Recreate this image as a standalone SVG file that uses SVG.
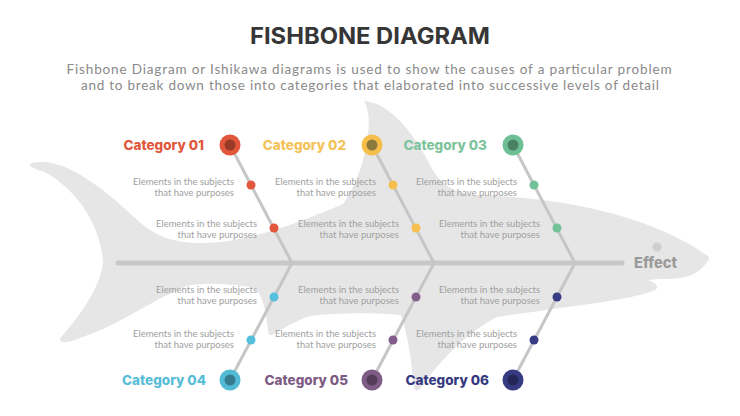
<svg xmlns="http://www.w3.org/2000/svg" width="740" height="416" viewBox="0 0 740 416">
<style>
.title{font-family:Inter,"Liberation Sans",sans-serif;font-weight:700;font-size:23px;fill:#363636;text-anchor:middle}
.sub{font-family:Lato,"Liberation Sans",sans-serif;font-size:13.5px;fill:#8a8a8a;text-anchor:middle}
.cat{font-family:Inter,"Liberation Sans",sans-serif;font-weight:800;font-size:13.5px;text-anchor:end}
.el{font-family:Lato,"Liberation Sans",sans-serif;font-size:9.5px;fill:#a0a0a0;text-anchor:end}
.bone{stroke:#c6c6c6;stroke-width:3;fill:none;stroke-linecap:round}
.spine{stroke:#c8c8c8;stroke-width:5;fill:none;stroke-linecap:round}
.inner{fill:#000;fill-opacity:0.33}
.effect{font-family:Inter,"Liberation Sans",sans-serif;font-weight:800;font-size:15px;fill:#9b9b9b}
</style>
<rect width="740" height="416" fill="#ffffff"/>
<path id="shark" fill="#e6e6e6" d="M32,163 C62,156 100,185 135,218 C155,236 170,243 205,243 C250,242 300,222 343,204 C358,185 372,140 368,112 Q366,104 364,101 C385,102 410,125 430,165 C440,185 455,193 475,195 C560,197 650,215 708,256 Q711,259 707,262 C700,272 690,280 660,279 L648,280 C656,283 660,287 655,290 C640,297 600,303 560,308 C540,311 515,314 497,317 C470,330 440,360 420,389 Q415,393 414,387 C412,365 408,335 401,315 C380,313 340,312 310,316 C298,320 285,327 272,335 Q268,336 268,331 C266,310 262,295 255,288 C235,284 215,283 190,285 C160,295 120,325 80,338 C72,341 66,343 62,342 Q58,340 62,336 C85,310 100,285 103,263 C102,235 85,195 45,172 C30,168 27,165 32,163 Z"/>
<text class="title" x="370" y="44" textLength="240" lengthAdjust="spacingAndGlyphs">FISHBONE DIAGRAM</text>
<text class="sub" x="369" y="74" textLength="605" lengthAdjust="spacing">Fishbone Diagram or Ishikawa diagrams is used to show the causes of a particular problem</text>
<text class="sub" x="370" y="90" textLength="578" lengthAdjust="spacing">and to break down those into categories that elaborated into successive levels of detail</text>
<g id="connectors">
<line class="spine" x1="118" y1="263" x2="622" y2="263"/>
<line class="bone" x1="230" y1="145" x2="292" y2="263"/>
<line class="bone" x1="372" y1="145" x2="434" y2="263"/>
<line class="bone" x1="513" y1="145" x2="575" y2="263"/>
<line class="bone" x1="292" y1="263" x2="230" y2="380"/>
<line class="bone" x1="434" y1="263" x2="372" y2="380"/>
<line class="bone" x1="575" y1="263" x2="513" y2="380"/>
</g>
<g id="cat1">
<text class="cat" x="204" y="150" fill="#e0573c">Category 01</text>
<circle cx="230" cy="145" r="10.5" fill="#e2573b"/><circle class="inner" cx="230" cy="145" r="5.5"/>
<circle cx="251" cy="185" r="4.5" fill="#e2573b"/><circle cx="274" cy="228" r="4.5" fill="#e2573b"/>
<text class="el" x="234" y="184.5">Elements in the subjects</text><text class="el" x="234" y="195.5">that have purposes</text>
<text class="el" x="257" y="227">Elements in the subjects</text><text class="el" x="257" y="238">that have purposes</text>
</g>
<g id="cat2">
<text class="cat" x="346" y="150" fill="#f3c258">Category 02</text>
<circle cx="372" cy="145" r="10.5" fill="#f5bf4c"/><circle cx="372" cy="145" r="5.5" fill="#8c7a3c"/>
<circle cx="393" cy="185" r="4.5" fill="#f5c04f"/><circle cx="416" cy="228" r="4.5" fill="#f5c04f"/>
<text class="el" x="376" y="184.5">Elements in the subjects</text><text class="el" x="376" y="195.5">that have purposes</text>
<text class="el" x="399" y="227">Elements in the subjects</text><text class="el" x="399" y="238">that have purposes</text>
</g>
<g id="cat3">
<text class="cat" x="487" y="150" fill="#7dc49d">Category 03</text>
<circle cx="513" cy="145" r="10.5" fill="#6fbf95"/><circle class="inner" cx="513" cy="145" r="5.5"/>
<circle cx="534" cy="185" r="4.5" fill="#72c299"/><circle cx="557" cy="228" r="4.5" fill="#72c299"/>
<text class="el" x="517" y="184.5">Elements in the subjects</text><text class="el" x="517" y="195.5">that have purposes</text>
<text class="el" x="540" y="227">Elements in the subjects</text><text class="el" x="540" y="238">that have purposes</text>
</g>
<g id="cat4">
<text class="cat" x="206" y="385" fill="#58bdd6">Category 04</text>
<circle cx="230" cy="380" r="10.5" fill="#52bad4"/><circle class="inner" cx="230" cy="380" r="5.5"/>
<circle cx="274" cy="297" r="4.5" fill="#56bfdb"/><circle cx="251" cy="340" r="4.5" fill="#56bfdb"/>
<text class="el" x="257" y="292.5">Elements in the subjects</text><text class="el" x="257" y="303.5">that have purposes</text>
<text class="el" x="234" y="336.5">Elements in the subjects</text><text class="el" x="234" y="347.5">that have purposes</text>
</g>
<g id="cat5">
<text class="cat" x="348" y="385" fill="#7c5a84">Category 05</text>
<circle cx="372" cy="380" r="10.5" fill="#7f5b87"/><circle class="inner" cx="372" cy="380" r="5.5"/>
<circle cx="416" cy="297" r="4.5" fill="#835e8b"/><circle cx="393" cy="340" r="4.5" fill="#835e8b"/>
<text class="el" x="399" y="292.5">Elements in the subjects</text><text class="el" x="399" y="303.5">that have purposes</text>
<text class="el" x="376" y="336.5">Elements in the subjects</text><text class="el" x="376" y="347.5">that have purposes</text>
</g>
<g id="cat6">
<text class="cat" x="489" y="385" fill="#353a80">Category 06</text>
<circle cx="513" cy="380" r="10.5" fill="#363a82"/><circle class="inner" cx="513" cy="380" r="5.5"/>
<circle cx="557" cy="297" r="4.5" fill="#383c85"/><circle cx="534" cy="340" r="4.5" fill="#383c85"/>
<text class="el" x="540" y="292.5">Elements in the subjects</text><text class="el" x="540" y="303.5">that have purposes</text>
<text class="el" x="517" y="336.5">Elements in the subjects</text><text class="el" x="517" y="347.5">that have purposes</text>
</g>
<g id="effect">
<circle cx="657" cy="247" r="4.5" fill="#cfcfcf"/>
<text class="effect" x="634" y="268" textLength="43" lengthAdjust="spacingAndGlyphs">Effect</text>
</g>
</svg>
